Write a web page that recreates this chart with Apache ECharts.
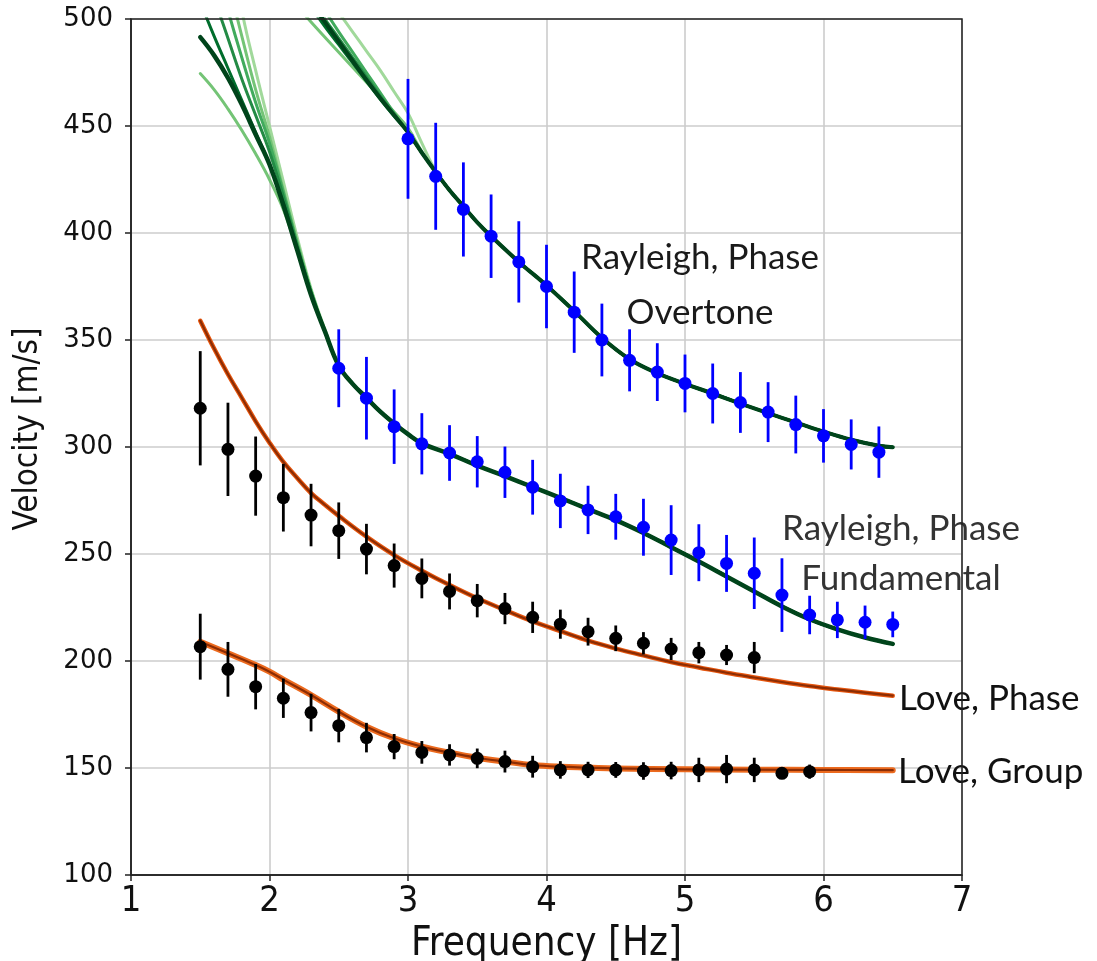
<!DOCTYPE html>
<html>
<head>
<meta charset="utf-8">
<script src="https://cdn.jsdelivr.net/npm/echarts@6/dist/echarts.min.js"></script>
<style>
  html, body { margin: 0; padding: 0; background: #ffffff; }
  #chart { width: 1097px; height: 961px; }
</style>
</head>
<body>
<div id="chart"></div>
<script>
// ---------- Observed dispersion picks (value ± error) ----------
const overtoneFreq = [3.0, 3.2, 3.4, 3.6, 3.8, 4.0, 4.2, 4.4, 4.6, 4.8, 5.0, 5.2, 5.4, 5.6, 5.8, 6.0, 6.2, 6.4];
const overtoneVel  = [444, 426.5, 411, 398.5, 386.5, 375, 363, 350, 340.5, 335, 329.7, 325, 320.8, 316.3, 310.5, 305.2, 301.2, 297.6];
const overtoneErr  = [28, 25, 22, 19.5, 19, 19.5, 19, 17, 14.5, 13.5, 13.5, 14, 14.2, 14, 13.5, 12.5, 11.7, 12];

const fundFreq = [2.5, 2.7, 2.9, 3.1, 3.3, 3.5, 3.7, 3.9, 4.1, 4.3, 4.5, 4.7, 4.9, 5.1, 5.3, 5.5, 5.7, 5.9, 6.1, 6.3, 6.5];
const fundVel  = [336.8, 322.8, 309.5, 301.5, 297.2, 293.1, 288.2, 281.2, 274.8, 270.6, 267.4, 262.5, 256.5, 250.6, 245.6, 241, 230.8, 221.5, 219.2, 218.1, 217.1];
const fundErr  = [18.2, 19.3, 17.4, 14.3, 13, 12, 12, 12.8, 12.7, 11.3, 10.7, 13.3, 16.3, 13.3, 13.3, 16.7, 17.2, 9, 8.5, 7.8, 6];

const lovePhaseFreq = [1.5, 1.7, 1.9, 2.1, 2.3, 2.5, 2.7, 2.9, 3.1, 3.3, 3.5, 3.7, 3.9, 4.1, 4.3, 4.5, 4.7, 4.9, 5.1, 5.3, 5.5];
const lovePhaseVel  = [318.1, 298.9, 286.4, 276.3, 268.2, 260.9, 252.3, 244.6, 238.6, 232.5, 228.2, 224.5, 220.4, 217.2, 213.7, 210.6, 208.3, 205.6, 203.9, 202.8, 201.6];
const lovePhaseErr  = [26.7, 21.8, 18.5, 15.8, 14.6, 13.2, 11.8, 10.3, 9.3, 8.4, 7.8, 7.3, 7.3, 6.8, 6.5, 6, 5.2, 5.2, 5, 4.7, 7.3];

const loveGroupFreq = [1.5, 1.7, 1.9, 2.1, 2.3, 2.5, 2.7, 2.9, 3.1, 3.3, 3.5, 3.7, 3.9, 4.1, 4.3, 4.5, 4.7, 4.9, 5.1, 5.3, 5.5, 5.7, 5.9];
const loveGroupVel  = [206.7, 196.1, 188, 182.6, 175.9, 169.8, 164.2, 160, 157.3, 156.1, 154.5, 153, 150.6, 149.1, 149.1, 149.1, 148.6, 148.8, 149.1, 149.5, 149.1, 147.5, 148.3];
const loveGroupErr  = [15.4, 12.8, 10.6, 9.2, 8.8, 7.8, 6.9, 5.9, 5.3, 5, 4.6, 5.1, 5.1, 4.1, 3.8, 3.7, 4.1, 4.1, 5.7, 6.6, 5.7, 2, 3.3];

// ---------- Modelled dispersion curves (ensemble of best models) ----------
// Rayleigh fundamental: models differ at low frequency, share the tail
const fundModelHeadFreq = [1.5, 1.6, 1.7, 1.8, 1.9, 2.0, 2.1, 2.2, 2.3, 2.4];
const fundModelHeads = [
  { color: '#a1d99b', width: 3,   vel: [620, 580, 542, 504, 476, 450, 424, 398, 374, 355] },
  { color: '#74c476', width: 3,   vel: [474.5, 467, 458, 448, 437, 425, 411, 392, 372, 354] },
  { color: '#74c476', width: 3,   vel: [570, 545, 518, 492, 467, 445, 420, 396, 373, 354] },
  { color: '#41ab5d', width: 3,   vel: [550, 527, 504, 482, 461, 442, 419, 395, 373, 354] },
  { color: '#238b45', width: 3,   vel: [530, 510, 491, 472, 455, 438, 417, 394, 372, 354] },
  { color: '#006d2c', width: 3,   vel: [508, 492, 477, 462, 447, 432, 414, 393, 372, 354] },
  { color: '#00441b', width: 4.5, vel: [491.5, 483, 472.5, 460, 446, 432, 413, 392, 371, 354] }
];
const fundModelTailFreq = [2.5, 2.6, 2.7, 2.8, 2.9, 3.0, 3.1, 3.3, 3.5, 3.7, 3.9, 4.1, 4.3, 4.5, 4.7, 4.9, 5.1, 5.3, 5.5, 5.7, 5.9, 6.1, 6.3, 6.5];
const fundModelTailVel  = [338, 329.5, 323, 316.5, 311, 306, 301.7, 296.8, 291.3, 286.4, 281.3, 276.2, 271, 265.8, 259.8, 253.2, 246.5, 239.5, 232.5, 225.5, 219.5, 214.8, 211, 208];

// Rayleigh overtone
const overModelHeadFreq = [2.2, 2.3, 2.4, 2.5, 2.6, 2.7, 2.8, 2.9, 3.0, 3.1, 3.2];
const overModelHeads = [
  { color: '#a1d99b', width: 3,   vel: [532, 522, 512, 503, 494, 485, 476, 466, 456, 442, 429] },
  { color: '#74c476', width: 3,   vel: [506, 498.6, 491.5, 484.5, 477.5, 470.5, 463.5, 456.5, 449, 438, 428.5] },
  { color: '#41ab5d', width: 3,   vel: [525, 514.5, 504, 494, 484.5, 475, 465.5, 456, 447, 437.5, 428.5] },
  { color: '#238b45', width: 3,   vel: [520, 510, 500, 491, 482, 473, 464, 455.5, 447, 437.5, 428.5] },
  { color: '#006d2c', width: 3,   vel: [515, 505.5, 496.5, 488, 479.5, 471, 462.5, 454.5, 447, 437.5, 428.5] },
  { color: '#00441b', width: 4,   vel: [518, 508, 498.5, 489.5, 480.5, 471.5, 463, 455, 447, 437.5, 428.5] }
];
const overModelTailFreq = [3.3, 3.4, 3.5, 3.6, 3.8, 4.0, 4.2, 4.4, 4.6, 4.8, 5.0, 5.2, 5.4, 5.6, 5.8, 6.0, 6.2, 6.4, 6.5];
const overModelTailVel  = [420, 412.5, 405, 398.5, 386.5, 375.5, 363.5, 351, 341, 334.5, 329.5, 325, 320.3, 315.8, 311.5, 307.2, 303.4, 300.6, 299.9];

// Love phase and group models
const lovePhaseModelFreq = [1.5, 1.6, 1.7, 1.8, 1.9, 2.0, 2.1, 2.2, 2.3, 2.4, 2.5, 2.7, 2.9, 3.1, 3.3, 3.5, 3.7, 3.9, 4.1, 4.3, 4.5, 4.7, 4.9, 5.1, 5.3, 5.5, 5.7, 5.9, 6.1, 6.3, 6.5];
const lovePhaseModelVel  = [359, 346, 334, 323, 312, 302, 293, 285.5, 278.5, 273, 267.8, 258.1, 249.5, 242.2, 235.5, 229.3, 223.8, 218.5, 214, 209.5, 205.8, 202.6, 199.5, 197, 194.5, 192.3, 190.2, 188.3, 186.7, 185.2, 183.8];

const loveGroupModelFreq = [1.5, 1.7, 1.9, 2.0, 2.1, 2.3, 2.5, 2.7, 2.9, 3.1, 3.3, 3.5, 3.7, 3.9, 4.1, 4.3, 4.5, 5.0, 5.5, 6.0, 6.5];
const loveGroupModelVel  = [209, 203.6, 198.1, 195, 191.3, 184.1, 176.3, 169.3, 163.9, 160, 157.2, 154.8, 153, 151.4, 150.6, 150.2, 149.8, 149.4, 149.2, 149.1, 149];

// Axis ticks
const xTicks = { min: 1, max: 7, step: 1 };
const yTicks = { min: 100, max: 500, step: 50 };

// ---------- helpers ----------
function pairs(fs, vs) { return fs.map((f, i) => [f, vs[i]]); }

function modelLine(data, color, width) {
  return {
    type: 'line', data: data, showSymbol: false, smooth: 0.4,
    clip: true, silent: true, z: 3,
    lineStyle: { color: color, width: width, cap: 'round', join: 'round' }
  };
}

function errorBars(fs, vs, es, color) {
  return {
    type: 'custom', z: 5, silent: true, clip: true,
    data: fs.map((f, i) => [f, vs[i] - es[i], vs[i] + es[i]]),
    encode: { x: 0, y: [1, 2] },
    renderItem(params, api) {
      const lo = api.coord([api.value(0), api.value(1)]);
      const hi = api.coord([api.value(0), api.value(2)]);
      return { type: 'line', shape: { x1: lo[0], y1: lo[1], x2: hi[0], y2: hi[1] },
               style: { stroke: color, lineWidth: 2.8 } };
    }
  };
}

function points(fs, vs, color) {
  return {
    type: 'scatter', data: pairs(fs, vs), symbol: 'circle', symbolSize: 13, z: 6, silent: true,
    itemStyle: { color: color, opacity: 1 }
  };
}

// ---------- series ----------
const series = [];

fundModelHeads.forEach(m => {
  const data = pairs(fundModelHeadFreq, m.vel).concat(pairs(fundModelTailFreq, fundModelTailVel));
  series.push(modelLine(data, m.color, m.width));
});
overModelHeads.forEach(m => {
  const data = pairs(overModelHeadFreq, m.vel).concat(pairs(overModelTailFreq, overModelTailVel));
  series.push(modelLine(data, m.color, m.width));
});

series.push(modelLine(pairs(lovePhaseModelFreq, lovePhaseModelVel), '#e6550d', 4.5));
series.push(modelLine(pairs(lovePhaseModelFreq, lovePhaseModelVel), '#8c2d04', 2.2));
series.push(modelLine(pairs(loveGroupModelFreq, loveGroupModelVel), '#ec6a1e', 6));
series.push(modelLine(pairs(loveGroupModelFreq, loveGroupModelVel), '#8c2d04', 2.2));

series.push(errorBars(overtoneFreq, overtoneVel, overtoneErr, '#0000ff'));
series.push(errorBars(fundFreq, fundVel, fundErr, '#0000ff'));
series.push(errorBars(lovePhaseFreq, lovePhaseVel, lovePhaseErr, '#000000'));
series.push(errorBars(loveGroupFreq, loveGroupVel, loveGroupErr, '#000000'));

series.push(points(overtoneFreq, overtoneVel, '#0000ff'));
series.push(points(fundFreq, fundVel, '#0000ff'));
series.push(points(lovePhaseFreq, lovePhaseVel, '#000000'));
series.push(points(loveGroupFreq, loveGroupVel, '#000000'));

// ---------- layout ----------
const G = { left: 131, top: 19, width: 831, height: 856 };
const labelFont = 'Lato, "Open Sans", sans-serif';

const chart = echarts.init(document.getElementById('chart'), null, { renderer: 'canvas' });
chart.setOption({
  animation: false,
  backgroundColor: '#ffffff',
  grid: { left: G.left, top: G.top, width: G.width, height: G.height, containLabel: false, outerBoundsMode: 'none' },
  xAxis: {
    type: 'value', min: xTicks.min, max: xTicks.max, interval: xTicks.step,
    name: 'Frequency [Hz]', nameLocation: 'middle', nameGap: 48,
    nameTextStyle: { fontFamily: '"DejaVu Sans Condensed", "DejaVu Sans", sans-serif', fontSize: 40, color: '#111' },
    axisLine: { show: true, onZero: false, lineStyle: { color: '#222', width: 1.5 } },
    axisTick: { show: true, inside: false, length: 6, lineStyle: { color: '#222', width: 1.5 } },
    axisLabel: { margin: 9, fontFamily: '"DejaVu Sans Condensed", "DejaVu Sans", sans-serif', fontSize: 36, color: '#111' },
    splitLine: { show: true, lineStyle: { color: '#cccccc', width: 1.6 } }
  },
  yAxis: {
    type: 'value', min: yTicks.min, max: yTicks.max, interval: yTicks.step,
    name: 'Velocity [m/s]', nameLocation: 'middle', nameGap: 86, nameRotate: 90,
    nameTextStyle: { fontFamily: '"DejaVu Sans Condensed", "DejaVu Sans", sans-serif', fontSize: 33, color: '#111',
                     padding: [0, 0, 0, 36] },
    axisLine: { show: true, onZero: false, lineStyle: { color: '#222', width: 1.5 } },
    axisTick: { show: true, inside: false, length: 6, lineStyle: { color: '#222', width: 1.5 } },
    axisLabel: { margin: 18, fontFamily: '"DejaVu Sans", sans-serif', fontSize: 26, color: '#111' },
    splitLine: { show: true, lineStyle: { color: '#cccccc', width: 1.6 } }
  },
  graphic: [
    { type: 'text', z: 50, style: { x: 700, y: 258, text: 'Rayleigh, Phase', font: '35px ' + labelFont, fill: '#1a1a1a', align: 'center', verticalAlign: 'middle' } },
    { type: 'text', z: 50, style: { x: 700, y: 313, text: 'Overtone', font: '35px ' + labelFont, fill: '#1a1a1a', align: 'center', verticalAlign: 'middle' } },
    { type: 'text', z: 50, style: { x: 901, y: 529, text: 'Rayleigh, Phase', font: '35px ' + labelFont, fill: '#333333', align: 'center', verticalAlign: 'middle' } },
    { type: 'text', z: 50, style: { x: 901, y: 579, text: 'Fundamental', font: '35px ' + labelFont, fill: '#333333', align: 'center', verticalAlign: 'middle' } },
    { type: 'text', z: 50, style: { x: 899, y: 699, text: 'Love, Phase', font: '35px ' + labelFont, fill: '#111111', align: 'left', verticalAlign: 'middle' } },
    { type: 'text', z: 50, style: { x: 898, y: 772, text: 'Love, Group', font: '35px ' + labelFont, fill: '#111111', align: 'left', verticalAlign: 'middle' } },
    { type: 'rect', z: 100, silent: true, shape: { x: G.left, y: G.top, width: G.width, height: G.height },
      style: { fill: null, stroke: '#222', lineWidth: 1.5 } }
  ],
  series: series
});
</script>
</body>
</html>
